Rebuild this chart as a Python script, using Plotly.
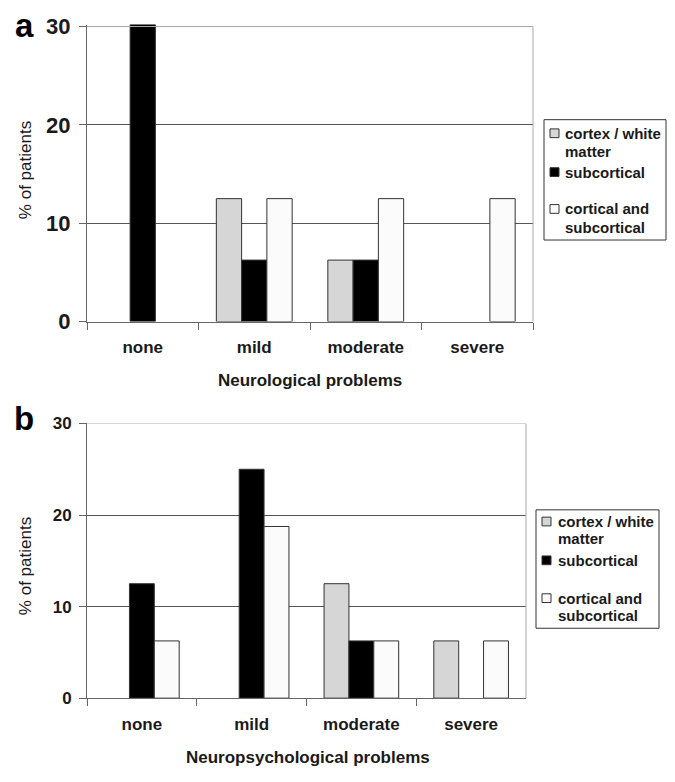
import plotly.graph_objects as go

# ---------------- data ----------------
categories = ["none", "mild", "moderate", "severe"]
series_names = ["cortex / white<br>matter", "subcortical", "cortical and<br>subcortical"]
series_colors = ["#d6d6d6", "#000000", "#fbfbfb"]

neuro_cortex = [0, 12.5, 6.25, 0]
neuro_subcortical = [30.2, 6.25, 6.25, 0]
neuro_both = [0, 12.5, 12.5, 12.5]

psych_cortex = [0, 0, 12.5, 6.25]
psych_subcortical = [12.5, 25, 6.25, 0]
psych_both = [6.25, 18.75, 6.25, 6.25]

y_ticks = [0, 10, 20, 30]
panel_labels = ["a", "b"]
x_titles = ["Neurological problems", "Neuropsychological problems"]
y_title = "% of patients"

W, H = 675, 782
def px(x):
    return x / W
def py(y):
    return 1 - y / H

FONT = "Arial, Liberation Sans, sans-serif"
TXT = "#1a1a1a"

fig = go.Figure()

panels = [
    (neuro_cortex, neuro_subcortical, neuro_both, "x", "y"),
    (psych_cortex, psych_subcortical, psych_both, "x2", "y2"),
]
for vals_c, vals_s, vals_b, xa, ya in panels:
    for name, color, vals in zip(series_names, series_colors, [vals_c, vals_s, vals_b]):
        fig.add_trace(go.Bar(
            x=categories, y=[v if v else None for v in vals], name=name, xaxis=xa, yaxis=ya,
            marker=dict(color=color, line=dict(color="#333333", width=1)),
            showlegend=False, hoverinfo="x+y",
        ))

def xaxis_cfg(domain, anchor):
    return dict(
        domain=domain, anchor=anchor, type="category",
        categoryorder="array", categoryarray=categories,
        range=[-0.5, 3.5], showline=True, linecolor="#666666", linewidth=1,
        ticks="outside", tickson="boundaries", ticklen=7, tickcolor="#666666",
        tickfont=dict(family=FONT, size=17, color=TXT, weight="bold"),
        ticklabelstandoff=10, showgrid=False, zeroline=False, fixedrange=True,
    )

def yaxis_cfg(domain, anchor, top, size):
    return dict(
        domain=domain, anchor=anchor, range=[0, top], tickvals=y_ticks,
        showline=True, linecolor="#666666", linewidth=1,
        ticks="outside", ticklen=7, tickcolor="#666666",
        tickfont=dict(family=FONT, size=size, color=TXT, weight="bold"),
        ticklabelstandoff=4,
        showgrid=True, gridcolor="#555555", gridwidth=1, zeroline=False,
        fixedrange=True,
    )

fig.update_layout(
    width=W, height=H,
    margin=dict(l=0, r=0, t=0, b=0),
    paper_bgcolor="white", plot_bgcolor="white",
    barmode="group", bargap=0.32, bargroupgap=0,
    xaxis=xaxis_cfg([px(87), px(533)], "y"),
    yaxis=yaxis_cfg([py(321), py(15)], "x", 30.2, 22),
    xaxis2=xaxis_cfg([px(87), px(526)], "y2"),
    yaxis2=yaxis_cfg([py(709), py(426)], "x2", 30, 17),
    showlegend=False,
)

shapes = []
annotations = []

# plot-area border (top and right, light gray)
for xr, yr in [("x", "y"), ("x2", "y2")]:
    shapes.append(dict(type="line", xref=f"{xr} domain", yref=yr, x0=0, x1=1, y0=30, y1=30,
                       line=dict(color="#aaaaaa", width=1), layer="above"))
    shapes.append(dict(type="line", xref=f"{xr} domain", yref=yr, x0=1, x1=1, y0=0, y1=30,
                       line=dict(color="#aaaaaa", width=1), layer="above"))

# panel letters, axis titles
panel_letter_y = [15.5, 420.5]
x_title_y = [382, 770]
x_title_cx = [310, 308]
y_title_cy = [165, 573]
for i in range(2):
    annotations.append(dict(text=panel_labels[i], xref="paper", yref="paper",
                            x=px(24), y=py(panel_letter_y[i]), xanchor="center", yanchor="middle",
                            showarrow=False, font=dict(family=FONT, size=33, color="#000", weight="bold")))
    annotations.append(dict(text=x_titles[i], xref="paper", yref="paper",
                            x=px(x_title_cx[i]), y=py(x_title_y[i]), xanchor="center", yanchor="middle",
                            showarrow=False, font=dict(family=FONT, size=17, color=TXT, weight="bold")))
    annotations.append(dict(text=y_title, xref="paper", yref="paper", textangle=-90,
                            x=px(25), y=py(y_title_cy[i]), xanchor="center", yanchor="middle",
                            showarrow=False, font=dict(family=FONT, size=17, color=TXT)))

# custom legends
legend_specs = [
    dict(box=(544, 113, 666, 237), sq_x=550, txt_x=563, first=[127, 167, 205], step=19),
    dict(box=(536, 515, 659, 637), sq_x=542, txt_x=556, first=[527, 567, 606], step=18),
]
for spec in legend_specs:
    x0, y0, x1, y1 = spec["box"]
    shapes.append(dict(type="rect", xref="paper", yref="paper",
                       x0=px(x0), x1=px(x1), y0=py(y0), y1=py(y1),
                       line=dict(color="#333333", width=1), fillcolor="white"))
    for name, color, fy in zip(series_names, series_colors, spec["first"]):
        shapes.append(dict(type="rect", xref="paper", yref="paper",
                           x0=px(spec["sq_x"]), x1=px(spec["sq_x"] + 9),
                           y0=py(fy - 4.5), y1=py(fy + 4.5),
                           line=dict(color="#333333", width=1), fillcolor=color))
        for k, line in enumerate(name.split("<br>")):
            annotations.append(dict(text=line, xref="paper", yref="paper",
                                    x=px(spec["txt_x"]), y=py(fy + k * spec["step"]),
                                    xanchor="left", yanchor="middle", showarrow=False,
                                    font=dict(family=FONT, size=15, color=TXT, weight="bold")))

fig.update_layout(shapes=shapes, annotations=annotations)
fig.write_html("out.html", config={"displayModeBar": False},
               post_script="document.body.style.margin='0px';")
